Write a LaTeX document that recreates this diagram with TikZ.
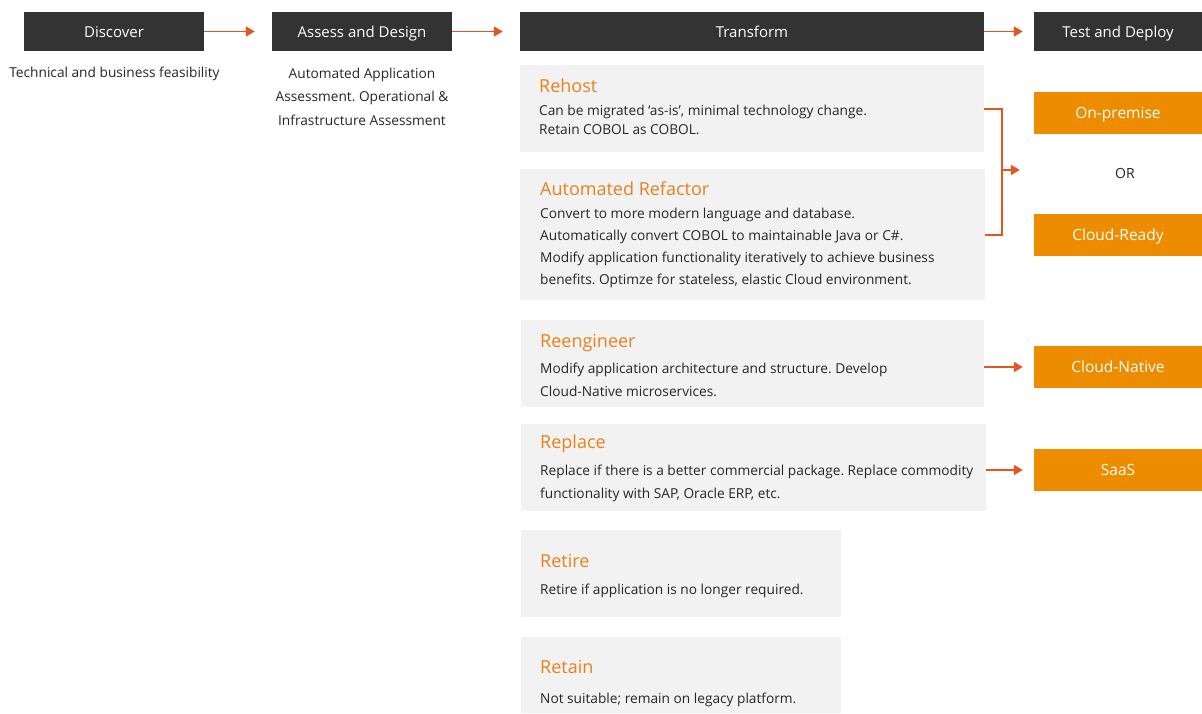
\documentclass[tikz,border=0pt]{standalone}
\usepackage{fontspec}
\setmainfont{Open Sans}
\frenchspacing
\usetikzlibrary{positioning, arrows.meta}
\definecolor{headgray}{HTML}{333333}
\definecolor{cardgray}{HTML}{F2F2F2}
\definecolor{deployorange}{HTML}{EE8C00}
\definecolor{titleorange}{HTML}{E8811A}
\definecolor{arroworange}{HTML}{E4561F}

\begin{document}
\begin{tikzpicture}[x=1pt, y=-1pt,
  phase/.style={fill=headgray, text=white, minimum height=39pt, inner sep=0pt, text height=12pt, text depth=1pt, font=\fontsize{15}{18}\selectfont},
  target/.style={fill=deployorange, text=white, minimum width=168pt, minimum height=42pt, inner sep=0pt, text height=12pt, text depth=1pt, font=\fontsize{15.5}{18}\selectfont},
  card/.style={fill=cardgray, anchor=north west, inner sep=0pt},
  cardtitle/.style={anchor=base west, inner sep=0pt, text=titleorange, font=\fontsize{18}{22}\selectfont},
  cardtext/.style={anchor=base west, inner sep=0pt, align=left, text=black!85},
  flow/.style={draw=arroworange, line width=1.8pt, -{Triangle[length=9pt,width=10pt]}}
]
\useasboundingbox (0,0) rectangle (1202,713);
% phases along the top
\node[phase, minimum width=180pt] (disc) at (114,31.5) {Discover};
\node[phase, minimum width=180pt] (assess) at (362,31.5) {Assess and Design};
\node[phase, minimum width=464pt] (trans) at (752,31.5) {Transform};
\node[phase, minimum width=168pt] (deploy) at (1118,31.5) {Test and Deploy};
\draw[flow, shorten >=17pt] (disc) -- (assess);
\draw[flow, shorten >=17pt] (assess) -- (trans);
\draw[flow, shorten >=11pt] (trans) -- (deploy);
% notes under discover / assess (base = last line)
\node[anchor=base, inner sep=0pt, text=black!85, font=\fontsize{13.7}{23}\selectfont] (discnote) at (114.5,77) {Technical and business feasibility};
\node[anchor=base, inner sep=0pt, align=center, text=black!85, font=\fontsize{13.7}{23.5}\selectfont] (assessnote) at (362,125) {Automated Application\\Assessment. Operational \&\\Infrastructure Assessment};
% rehost
\node[card, minimum width=464pt, minimum height=87pt] (rehost) at (520,65) {};
\node[cardtitle] (rehostT) at (539,92) {Rehost};
\node[cardtext, font=\fontsize{13.7}{19}\selectfont] (rehostB) at (539,134) {Can be migrated ‘as-is’, minimal technology change.\\Retain COBOL as COBOL.};
% automated refactor
\node[card, minimum width=465pt, minimum height=131pt] (refactor) at (520,169) {};
\node[cardtitle] (refactorT) at (540,195) {Automated Refactor};
\node[cardtext, font=\fontsize{13.7}{21.7}\selectfont] (refactorB) at (540,284) {Convert to more modern language and database.\\Automatically convert COBOL to maintainable Java or C\#.\\Modify application functionality iteratively to achieve business\\benefits. Optimze for stateless, elastic Cloud environment.};
% reengineer
\node[card, minimum width=463pt, minimum height=87pt] (reeng) at (521,320) {};
\node[cardtitle] (reengT) at (540,347) {Reengineer};
\node[cardtext, font=\fontsize{13.7}{23}\selectfont] (reengB) at (540,396) {Modify application architecture and structure. Develop\\Cloud-Native microservices.};
% replace
\node[card, minimum width=465pt, minimum height=87pt] (replace) at (521,424) {};
\node[cardtitle] (replaceT) at (540,448) {Replace};
\node[cardtext, font=\fontsize{13.7}{23}\selectfont] (replaceB) at (540,498) {Replace if there is a better commercial package. Replace commodity\\functionality with SAP, Oracle ERP, etc.};
% retire
\node[card, minimum width=320pt, minimum height=87pt] (retire) at (521,530) {};
\node[cardtitle] (retireT) at (540,567) {Retire};
\node[cardtext, font=\fontsize{13.7}{23}\selectfont] (retireB) at (540,594) {Retire if application is no longer required.};
% retain
\node[card, minimum width=320pt, minimum height=76pt] (retain) at (521,637) {};
\node[cardtitle] (retainT) at (540,673) {Retain};
\node[cardtext, font=\fontsize{13.7}{23}\selectfont] (retainB) at (540,703) {Not suitable; remain on legacy platform.};
% deploy targets
\node[target] (onprem) at (1118,113) {On-premise};
\node[inner sep=0pt, text=black!85, font=\fontsize{14}{17}\selectfont] (or) at (1125,173) {OR};
\node[target] (ready) at (1118,234.5) {Cloud-Ready};
\node[target] (native) at (1118,367) {Cloud-Native};
\node[target] (saas) at (1118,470) {SaaS};
% bracket from rehost and refactor
\coordinate (brk) at (1002,170);
\draw[arroworange, line width=1.8pt] (rehost.east) -| (brk) |- (refactor.east);
\draw[flow, shorten >=14pt] (brk) -- (brk -| onprem.west);
\draw[flow, shorten >=11pt] (native -| reeng.east) -- (native);
\draw[flow, shorten >=11pt] (saas -| replace.east) -- (saas);
\end{tikzpicture}
\end{document}
